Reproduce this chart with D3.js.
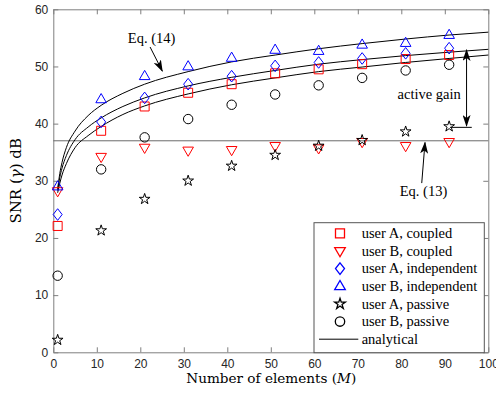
<!DOCTYPE html>
<html>
<head>
<meta charset="utf-8">
<script src="https://cdn.jsdelivr.net/npm/d3@7"></script>
<style>
  body { margin: 0; background: #fff; }
  svg text { font-family: "Liberation Serif", "Times New Roman", serif; fill: #000; }
  .axis .tick text { font-family: "Liberation Sans", Arial, sans-serif; font-size: 12px; fill: #262626; }
  .axis path, .axis line { stroke: #7f7f7f; }
</style>
</head>
<body>
<svg id="chart" width="496" height="397"></svg>
<script>
// simulated points, every 10 elements
const elements = [1, 11, 21, 31, 41, 51, 61, 71, 81, 91];
const userACoupled = [22.1, 38.75, 43.0, 45.4, 46.9, 48.8, 49.5, 50.4, 51.3, 52.0];
const userBCoupled = [28.2, 34.2, 35.8, 35.3, 35.4, 36.1, 35.7, 36.8, 36.1, 36.8];
const userAIndep = [24.1, 40.3, 44.5, 46.9, 48.3, 50.1, 50.7, 51.4, 52.3, 53.2];
const userBIndep = [29.0, 44.25, 48.3, 50.0, 51.5, 52.9, 52.7, 53.8, 54.1, 55.5];
const userAPassive = [2.15, 21.3, 26.8, 30.0, 32.6, 34.5, 36.1, 37.1, 38.6, 39.5];
const userBPassive = [13.4, 32.0, 37.6, 40.8, 43.3, 45.1, 46.7, 48.0, 49.3, 50.3];

// analytical curves (Eq. 14)
const analyticM = [1, 1.5, 2, 3, 5, 8, 11, 16, 21, 31, 41, 51, 61, 71, 81, 91, 100];
const eq14Upper = [28.6, 31.3, 33.2, 35.8, 38.7, 41.4, 43.2, 45.3, 46.9, 49.1, 50.8, 52.0, 53.1, 54.0, 54.8, 55.5, 56.0];
const eq14Middle = [28.3, 30.6, 32.2, 34.4, 37.2, 39.4, 41.0, 43.0, 44.5, 46.6, 48.1, 49.3, 50.4, 51.2, 51.9, 52.5, 53.0];
const eq14Lower = [27.9, 29.6, 31.0, 33.0, 35.8, 37.9, 39.5, 41.6, 43.1, 45.2, 46.8, 48.0, 49.1, 49.9, 50.7, 51.4, 52.0];
// passive bound (Eq. 13)
const eq13Level = [37.0];

const xTicks = [0, 10, 20, 30, 40, 50, 60, 70, 80, 90, 100];
const yTicks = [0, 10, 20, 30, 40, 50, 60];

const margin = { top: 9.3, right: 7.7, bottom: 44.7, left: 53.3 };
const width = 496 - margin.left - margin.right;
const height = 397 - margin.top - margin.bottom;

const svg = d3.select('#chart')
    .append('g')
    .attr('transform', 'translate(' + margin.left + ',' + margin.top + ')');

const x = d3.scaleLinear().domain([0, 100]).range([0, width]);
const y = d3.scaleLinear().domain([0, 60]).range([height, 0]);

// marker shapes (MATLAB style)
const shapes = {
    square: 'M-4.5,-4.5H4.5V4.5H-4.5Z',
    triDown: 'M0,5.8L5.3,-3.4L-5.3,-3.4Z',
    diamond: 'M0,-5.8L4.5,0L0,5.8L-4.5,0Z',
    triUp: 'M0,-5.8L5.3,3.4L-5.3,3.4Z',
    star: d3.symbol(d3.symbolStar, 36)(),
    circle: d3.symbol(d3.symbolCircle, Math.PI * 4.7 * 4.7)()
};

const series = [
    { name: 'user A, coupled', values: userACoupled, color: '#ff0000', shape: 'square' },
    { name: 'user B, coupled', values: userBCoupled, color: '#ff0000', shape: 'triDown' },
    { name: 'user A, independent', values: userAIndep, color: '#0000ff', shape: 'diamond' },
    { name: 'user B, independent', values: userBIndep, color: '#0000ff', shape: 'triUp' },
    { name: 'user A, passive', values: userAPassive, color: '#000000', shape: 'star' },
    { name: 'user B, passive', values: userBPassive, color: '#000000', shape: 'circle' }
];

// axes, ticks pointing inward on all four sides
svg.append('g')
    .attr('class', 'axis')
    .attr('transform', 'translate(0,' + height + ')')
    .call(d3.axisBottom(x).tickValues(xTicks).tickSize(-5).tickSizeOuter(0).tickPadding(7));

svg.append('g')
    .attr('class', 'axis')
    .call(d3.axisLeft(y).tickValues(yTicks).tickSize(-5).tickSizeOuter(0).tickPadding(5));

svg.append('g')
    .attr('class', 'axis')
    .call(d3.axisTop(x).tickValues(xTicks).tickSize(-5).tickSizeOuter(0).tickFormat(''));

svg.append('g')
    .attr('class', 'axis')
    .attr('transform', 'translate(' + width + ',0)')
    .call(d3.axisRight(y).tickValues(yTicks).tickSize(-5).tickSizeOuter(0).tickFormat(''));

// Eq. (13) horizontal level
svg.selectAll('.eq13')
    .data(eq13Level)
    .enter()
    .append('line')
    .attr('class', 'eq13')
    .attr('x1', 0)
    .attr('x2', width)
    .attr('y1', d => y(d))
    .attr('y2', d => y(d))
    .attr('stroke', '#6b6b6b')
    .attr('stroke-width', 1);

// analytical curves
const line = d3.line()
    .x(d => x(d[0]))
    .y(d => y(d[1]))
    .curve(d3.curveMonotoneX);

[eq14Upper, eq14Middle, eq14Lower].forEach(vals => {
    svg.append('path')
        .datum(analyticM.map((m, i) => [m, vals[i]]))
        .attr('d', line)
        .attr('fill', 'none')
        .attr('stroke', '#000')
        .attr('stroke-width', 1);
});

// markers
series.forEach(s => {
    svg.append('g')
        .selectAll('path')
        .data(s.values)
        .enter()
        .append('path')
        .attr('transform', (d, i) => 'translate(' + x(elements[i]) + ',' + y(d) + ')')
        .attr('d', shapes[s.shape])
        .attr('fill', 'none')
        .attr('stroke', s.color)
        .attr('stroke-width', 1);
});

// arrow heads
const defs = d3.select('#chart').append('defs');
defs.append('marker')
    .attr('id', 'head')
    .attr('viewBox', '0 0 12 8')
    .attr('refX', 11)
    .attr('refY', 4)
    .attr('markerWidth', 12)
    .attr('markerHeight', 8)
    .attr('markerUnits', 'userSpaceOnUse')
    .attr('orient', 'auto-start-reverse')
    .append('path')
    .attr('d', 'M0,0L12,4L0,8L3,4Z')
    .attr('fill', '#000');

function arrow(m1, v1, m2, v2, both) {
    const a = svg.append('line')
        .attr('x1', x(m1)).attr('y1', y(v1))
        .attr('x2', x(m2)).attr('y2', y(v2))
        .attr('stroke', '#000')
        .attr('stroke-width', 1)
        .attr('marker-end', 'url(#head)');
    if (both) a.attr('marker-start', 'url(#head)');
}

// Eq. (14) label
svg.append('text')
    .attr('x', x(22.6))
    .attr('y', y(54.1))
    .attr('text-anchor', 'middle')
    .style('font-size', '14.5px')
    .text('Eq. (14)');
arrow(22.25, 53.4, 25.06, 49.2, false);

// active gain
svg.append('text')
    .attr('x', x(86.4))
    .attr('y', y(44.25))
    .attr('text-anchor', 'middle')
    .style('font-size', '14.5px')
    .text('active gain');
arrow(95.0, 52.9, 95.0, 39.6, true);
svg.append('line')
    .attr('x1', x(91.2)).attr('x2', x(96.2))
    .attr('y1', y(39.35)).attr('y2', y(39.35))
    .attr('stroke', '#000')
    .attr('stroke-width', 1);

// Eq. (13) label
svg.append('text')
    .attr('x', x(85.1))
    .attr('y', y(27.3))
    .attr('text-anchor', 'middle')
    .style('font-size', '14.5px')
    .text('Eq. (13)');
arrow(84.7, 29.6, 85.45, 36.7, false);

// legend
const legend = svg.append('g')
    .attr('transform', 'translate(' + (314 - margin.left) + ',' + (222.7 - margin.top) + ')');

legend.append('rect')
    .attr('width', 170.3)
    .attr('height', 130)
    .attr('fill', '#fff')
    .attr('stroke', '#555')
    .attr('stroke-width', 1);

series.forEach((s, i) => {
    const row = legend.append('g')
        .attr('transform', 'translate(0,' + (10.6 + i * 17.65) + ')');
    row.append('path')
        .attr('transform', 'translate(26,0)')
        .attr('d', shapes[s.shape])
        .attr('fill', 'none')
        .attr('stroke', s.color)
        .attr('stroke-width', 1.3);
    row.append('text')
        .attr('x', 47.7)
        .attr('y', 4.8)
        .style('font-size', '14.5px')
        .text(s.name);
});

const lastRow = legend.append('g')
    .attr('transform', 'translate(0,' + (10.6 + 6 * 17.65) + ')');
lastRow.append('line')
    .attr('x1', 5).attr('x2', 44.3)
    .attr('stroke', '#000')
    .attr('stroke-width', 1);
lastRow.append('text')
    .attr('x', 47.7)
    .attr('y', 4.8)
    .style('font-size', '14.5px')
    .text('analytical');

// axis titles
const xLabel = svg.append('text')
    .attr('x', width / 2 + 0.5)
    .attr('y', height + 31)
    .attr('text-anchor', 'middle')
    .style('font-family', '"DejaVu Serif", serif')
    .style('font-size', '13.6px');
xLabel.append('tspan').text('Number of elements (');
xLabel.append('tspan').style('font-style', 'italic').text('M');
xLabel.append('tspan').text(')');

const yLabel = svg.append('text')
    .attr('transform', 'translate(' + (-32) + ',' + (height / 2) + ') rotate(-90)')
    .attr('text-anchor', 'middle')
    .style('font-family', '"DejaVu Serif", serif')
    .style('font-size', '15px');
yLabel.append('tspan').text('SNR (');
yLabel.append('tspan').style('font-style', 'italic').text('γ');
yLabel.append('tspan').text(') dB');
</script>
</body>
</html>
